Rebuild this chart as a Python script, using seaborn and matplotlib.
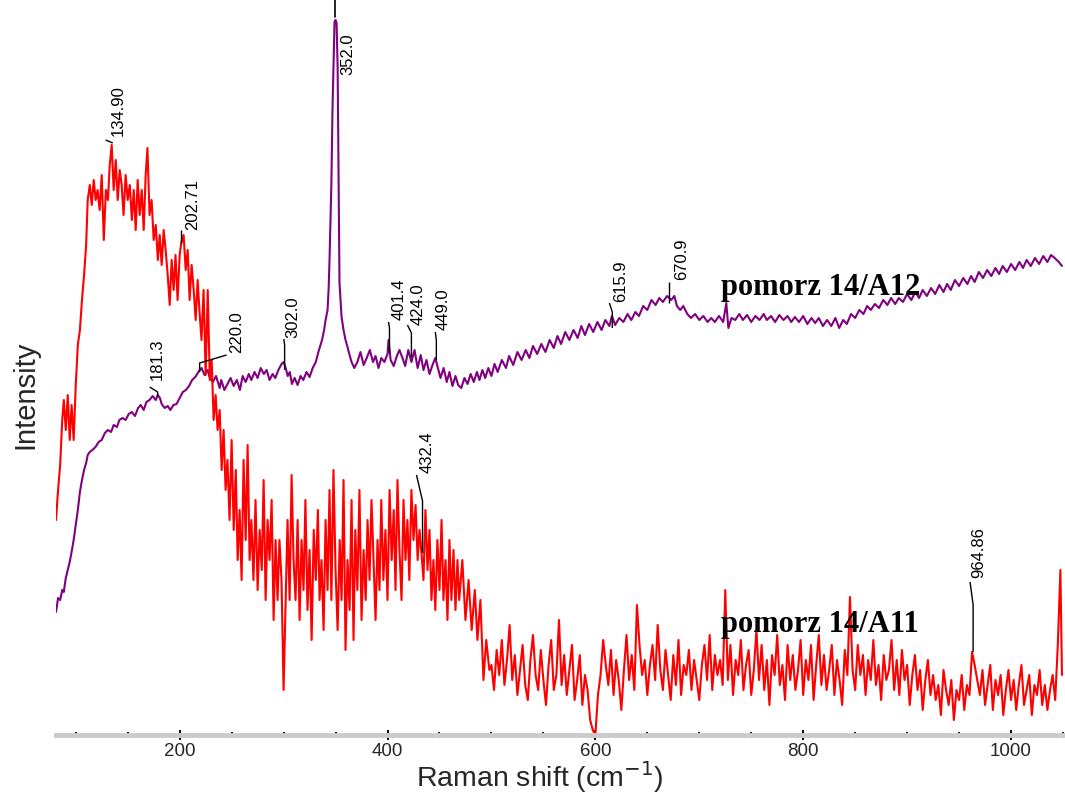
import matplotlib
matplotlib.use("Agg")
import matplotlib.pyplot as plt
import seaborn as sns
import pandas as pd

# ---------------- data (Raman shift in cm-1, intensity in arbitrary units) ----------------
# pomorz 14/A11, low-shift part
a11_shift = [81, 83, 85, 87, 88.5, 90.4, 92.3, 94.2, 96, 98, 100, 102, 104, 106, 108, 110, 111.5, 113.5, 115.4,
             117.3, 119.2, 121, 123, 125, 127, 129, 131, 132.7, 134.6, 136.5, 138.5, 140.4, 142.3, 144.2, 146, 148,
             150, 152, 154, 155.8, 157.7, 159.6, 161.5, 163.5, 165.4, 167.3, 169, 171, 173, 175, 177, 179, 180.8,
             182.7, 184.6, 186.5, 188.5, 190.4, 192.3, 194.2, 196, 198, 200, 201.5, 203.8, 205.8, 207.7, 209.6,
             211.5, 213.5, 215.4, 217.3, 219, 221, 223, 225, 227, 229, 230.8, 232.7, 234.6, 236.5, 238.5, 240.4,
             242.3, 244.2, 246, 248, 250, 252, 254, 255.8, 257.7, 259.6, 261.5, 263.5, 265.4, 267.3, 269, 271, 273,
             275, 277, 279, 280.8, 282.7, 284.6, 286.5, 288.5, 290.4, 292.3, 294.2, 296, 298, 300, 302, 303.8,
             305.8, 307.7, 309.6, 311.5, 313.5, 315.4, 317.3, 319.2, 321, 323, 325, 327, 329, 331, 333, 334.6,
             336.5, 338.5, 340.4, 342.3, 344.2, 346, 348, 350, 352, 354, 355.8, 357.7, 359.6, 361.5, 363.5, 365.4,
             367.3, 369, 371, 373, 375, 377, 379, 380.8, 382.7, 384.6, 386.5, 388.5, 390.4, 392.3, 394, 396, 398,
             400, 402, 404, 406, 407.7, 409.6, 411.5, 413.5, 415.4, 417.3, 419.2, 421, 423, 425, 427, 429, 430.8,
             432.7, 434.6, 436.5, 438.5, 440.4, 442.3, 444.2, 446, 448, 450, 452, 453.8, 455.8, 457.7, 459.6,
             461.5, 463.5, 465.4, 467.3, 469, 472, 475, 478, 481, 484, 486.5, 489.4, 492.3, 495, 498]
a11_intensity = [215, 245, 270, 315, 335, 305, 340, 295, 330, 295, 350, 390, 405, 435, 460, 490, 535, 550, 530,
                 555, 535, 545, 525, 560, 495, 545, 535, 570, 590, 545, 575, 535, 565, 550, 520, 560,
                 535, 550, 515, 545, 505, 555, 520, 545, 505, 560, 587, 520, 535, 495, 510, 475, 500,
                 470, 505, 485, 460, 430, 475, 445, 480, 435, 480, 492, 500, 465, 485, 435,
                 470, 445, 415, 455, 425, 395, 445, 360, 445, 355, 375, 315, 340, 305, 325, 265,
                 305, 245, 275, 215, 295, 205, 265, 175, 225, 155, 275, 195, 290, 175, 215, 155, 235,
                 145, 205, 165, 255, 135, 215, 175, 235, 115, 195, 135, 195, 155, 45, 135, 215,
                 135, 260, 175, 135, 215, 115, 195, 145, 235, 125, 185, 95, 205, 155, 225, 135,
                 175, 105, 215, 145, 245, 135, 265, 165, 105, 195, 135, 255, 85, 175, 125, 235,
                 95, 205, 145, 245, 115, 185, 135, 215, 155, 235, 175, 115, 195, 145, 235, 155, 205,
                 135, 245, 175, 225, 145, 255, 185, 135, 235, 175, 215, 155, 245, 195, 230, 175, 205,
                 182, 155, 225, 165, 205, 135, 175, 125, 195, 145, 215, 135, 175, 115, 195,
                 135, 185, 125, 175, 135, 175, 115, 155, 105, 145, 95, 135, 55, 95, 65]

# pomorz 14/A11, high-shift (baseline) part
a11_tail_shift = [500, 502.5, 505, 507.5, 510, 512.5, 515, 517.5, 520, 522.5,
                  525, 527.5, 530, 532.5, 535, 537.5, 540, 542.5, 545, 547.5,
                  550, 552.5, 555, 557.5, 560, 562.5, 565, 567.5, 570, 572.5,
                  575, 577.5, 580, 582.5, 585, 587.5, 590, 592.5, 595, 597.5,
                  600, 602.5, 605, 607.5, 610, 612.5, 615, 617.5, 620, 622.5,
                  625, 627.5, 630, 632.5, 635, 637.5, 640, 642.5, 645, 647.5,
                  650, 652.5, 655, 657.5, 660, 662.5, 665, 667.5, 670, 672.5,
                  675, 677.5, 680, 682.5, 685, 687.5, 690, 692.5, 695, 697.5,
                  700, 702.5, 705, 707.5, 710, 712.5, 715, 717.5, 720, 722.5,
                  725, 727.5, 730, 732.5, 735, 737.5, 740, 742.5, 745, 747.5,
                  750, 752.5, 755, 757.5, 760, 762.5, 765, 767.5, 770, 772.5,
                  775, 777.5, 780, 782.5, 785, 787.5, 790, 792.5, 795, 797.5,
                  800, 802.5, 805, 807.5, 810, 812.5, 815, 817.5, 820, 822.5,
                  825, 827.5, 830, 832.5, 835, 837.5, 840, 842.5, 845, 847.5,
                  850, 852.5, 855, 857.5, 860, 862.5, 865, 867.5, 870, 872.5,
                  875, 877.5, 880, 882.5, 885, 887.5, 890, 892.5, 895, 897.5,
                  900, 902.5, 905, 907.5, 910, 912.5, 915, 917.5, 920, 922.5,
                  925, 927.5, 930, 932.5, 935, 937.5, 940, 942.5, 945, 947.5,
                  950, 952.5, 955, 957.5, 960, 962.5, 965, 967.5, 970, 972.5,
                  975, 977.5, 980, 982.5, 985, 987.5, 990, 992.5, 995, 997.5,
                  1000, 1002.5, 1005, 1007.5, 1010, 1012.5, 1015, 1017.5, 1020, 1022.5,
                  1025, 1027.5, 1030, 1032.5, 1035, 1037.5, 1040, 1042.5, 1045, 1047.5,
                  1049]
a11_tail_intensity = [70, 45, 85, 60, 95, 50, 75, 110, 55, 80,
                      40, 65, 90, 50, 35, 75, 100, 60, 45, 85,
                      55, 30, 70, 95, 45, 60, 115, 50, 80, 40,
                      65, 90, 35, 55, 80, 30, 60, 45, 15, 5,
                      0, 40, 60, 95, 70, 50, 85, 40, 75, 55,
                      25, 65, 100, 55, 80, 45, 130, 90, 60, 75,
                      40, 70, 90, 55, 110, 65, 45, 85, 60, 35,
                      80, 50, 95, 40, 70, 60, 85, 45, 75, 55,
                      35, 70, 90, 55, 100, 45, 80, 60, 75, 50,
                      145, 55, 90, 40, 75, 60, 95, 45, 70, 85,
                      40, 65, 105, 55, 90, 45, 75, 30, 80, 60,
                      100, 50, 70, 35, 90, 55, 80, 45, 65, 95,
                      40, 75, 55, 90, 35, 70, 100, 50, 80, 45,
                      65, 90, 40, 75, 55, 30, 85, 60, 138, 65,
                      45, 90, 60, 80, 40, 75, 55, 95, 50, 70,
                      35, 80, 55, 65, 95, 45, 75, 40, 85, 55,
                      70, 30, 60, 80, 45, 65, 25, 55, 75, 40,
                      60, 35, 50, 20, 65, 45, 30, 55, 15, 45,
                      35, 60, 25, 50, 40, 83, 70, 55, 40, 65,
                      30, 50, 70, 25, 55, 40, 60, 20, 45, 65,
                      35, 55, 25, 50, 70, 30, 45, 60, 20, 50,
                      40, 65, 30, 50, 25, 45, 60, 35, 90, 165,
                      60]

a12_shift = [81, 83, 85, 87, 88.5, 90.4, 92.3, 94.2, 96, 98, 100, 102, 104, 106, 108, 110, 111.5, 113.5, 116,
             119, 122, 125, 128, 131, 134, 136.5, 139.6, 142, 145, 148, 151, 154, 157, 160, 162.5, 165.4, 168,
             171, 174, 177, 179, 181, 182.7, 185.6, 188.5, 191, 194, 197, 200, 203, 206, 209, 212, 215, 218, 221,
             224, 227, 229, 232, 235, 238.5, 240, 243, 246, 249, 252, 255, 258, 260.6, 263.5, 266.5, 269, 272,
             275, 278, 281, 283.7, 286.5, 289.4, 292, 295, 298, 300, 302, 304, 306, 308, 310.6, 313.5, 316.3,
             319, 322, 325, 328, 331, 333.5, 335, 337, 339, 340.4, 342.3, 343.3, 344.2, 345, 346, 347, 348, 349,
             350, 351, 352, 353, 353.8, 354.8, 355.8, 357.7, 359.6, 361.5, 363.5, 365.4, 368, 371, 374, 377, 380,
             383, 386, 388.5, 391.3, 394, 397, 400, 401, 403, 406, 409, 411.5, 414.4, 417, 420, 423, 426, 429,
             432, 434.6, 437.5, 440.4, 443.3, 446, 448, 451, 454, 457, 459.6, 462.5, 465.4, 468, 471, 474, 477,
             480, 483, 486, 488.5, 491.3, 494, 497, 500, 503, 506, 510, 514, 517, 521, 525, 529, 533, 536.5, 540,
             544, 548, 552, 556, 560, 563.5, 567, 571, 575, 579, 583, 586.5, 590, 594, 598, 602, 606, 609.6,
             613.5, 616, 619, 623, 627, 631, 634.6, 638.5, 642, 646, 650, 654, 658, 661.5, 665, 669, 673, 676,
             678.5, 681.7, 684.6, 688.5, 692, 696, 700, 704, 708, 711.5, 715, 719, 723, 726, 728, 731, 734.6,
             738.5, 742, 746, 750, 754, 758, 762, 765, 769, 773, 777, 781, 785, 788.5, 792, 796, 800, 804, 808,
             811.5, 815, 819, 823, 827, 831, 834.6, 838.5, 842, 846, 850, 854, 858, 861.5, 865, 869, 873, 877,
             881, 884.6, 888.5, 892, 896, 900, 904, 908, 911.5, 915, 919, 923, 927, 931, 935, 938.5, 942, 946,
             950, 954, 958, 961.5, 965, 969, 973, 977, 981, 985, 988.5, 992, 996, 1000, 1004, 1008, 1011.5, 1015,
             1019, 1023, 1027, 1031, 1035, 1038.5, 1042, 1046, 1049]
a12_intensity = [123, 137, 135, 145, 143, 157, 165, 173, 183, 195, 210, 225, 243, 255, 265, 272, 280, 283, 285,
                 288, 293, 295, 302, 305, 303, 310, 308, 315, 317, 315, 321, 323, 319, 327, 330, 325, 333,
                 335, 339, 335, 340, 337, 331, 327, 329, 325, 330, 331, 337, 343, 345, 349, 355, 358, 363, 367,
                 360, 365, 357, 353, 359, 347, 355, 345, 351, 357, 349, 355, 345, 359, 353, 361, 355, 363,
                 357, 367, 361, 365, 355, 361, 357, 365, 371, 373, 367, 359, 363, 351, 357, 350, 359,
                 355, 363, 358, 367, 373, 383, 388, 395, 405, 415, 425, 445, 475, 508, 552, 622, 668, 713,
                 715, 712, 668, 552, 452, 435, 418, 405, 395, 388, 380, 373, 367, 373, 383, 370, 377,
                 385, 373, 379, 367, 377, 373, 381, 395, 375, 369, 379, 385, 377, 369, 385, 373, 385, 367,
                 380, 365, 375, 361, 370, 377, 369, 357, 367, 353, 363, 349, 359, 350, 347, 357, 351,
                 361, 353, 363, 355, 365, 357, 367, 359, 371, 363, 375, 367, 379, 370, 383, 375, 385, 377, 389,
                 381, 391, 383, 395, 387, 399, 391, 403, 395, 405, 397, 409, 400, 411, 403, 413, 405, 415,
                 409, 419, 410, 417, 413, 421, 415, 423, 419, 429, 425, 435, 430, 437, 433, 439, 435, 439,
                 429, 425, 429, 421, 417, 421, 415, 419, 413, 417, 413, 419, 413, 432, 407, 417, 415,
                 421, 415, 420, 413, 419, 415, 421, 415, 419, 413, 420, 415, 419, 413, 418, 413, 419, 411, 417,
                 412, 417, 409, 415, 409, 417, 407, 415, 411, 421, 417, 425, 421, 429, 425, 431, 427, 435,
                 430, 437, 431, 437, 433, 441, 435, 443, 437, 445, 439, 447, 441, 450, 443, 451, 445, 455,
                 449, 457, 451, 459, 453, 463, 457, 465, 459, 467, 461, 469, 463, 471, 465, 473, 467, 475,
                 469, 477, 471, 479, 473, 480, 477, 473, 469]

# peak labels: text, foot of leader (x, y), knee height, top of leader (x, y), text anchor (x, y)
peak_text = ["134.90", "202.71", "181.3", "220.0", "302.0", "401.4", "424.0", "449.0", "615.9", "670.9",
             "432.4", "964.86"]
peak_x = [135.6, 201, 178.8, 219.2, 301, 401.9, 423, 447, 616.3, 671, 433.7, 963.5]
peak_y = [592, 492, 338, 363, 365, 382, 378, 375, 407, 432, 182, 83]
knee_y = [592, 492, 343, 372, 390, 407, 402, 395, 423, 445, 234, 130]
top_x = [128.8, 201, 171.2, 245.2, 300.2, 401, 419.2, 446, 613.5, 671, 427.9, 960.6]
top_y = [595, 505, 348, 380, 396, 413, 410, 403, 432, 453, 260, 153]
text_x = [141.3, 212.5, 178.8, 254.8, 308.7, 411.5, 429.8, 453.7, 624, 682.7, 438.5, 969.2]
text_y = [599, 505, 355, 382, 397, 415, 410, 405, 433, 455, 262, 157]

main_peak = ["352.0"]
main_peak_x = [349]
main_peak_y = [718]

series_names = ["pomorz 14/A12", "pomorz 14/A11"]
series_label_x = [721, 721]
series_label_y = [440, 103]

# ---------------- figure ----------------
sns.set_theme(style="white")
plt.rcParams["font.family"] = ["Liberation Sans", "DejaVu Sans"]

fig = plt.figure(figsize=(10.65, 7.94), dpi=100)
ax = fig.add_axes([56 / 1065, 59 / 794, 1007 / 1065, 735 / 794])

df12 = pd.DataFrame({"shift": a12_shift, "intensity": a12_intensity})
df11 = pd.DataFrame({"shift": a11_shift + a11_tail_shift, "intensity": a11_intensity + a11_tail_intensity})
sns.lineplot(data=df12, x="shift", y="intensity", ax=ax, color="#800080", linewidth=1.5,
             estimator=None, sort=False)
sns.lineplot(data=df11, x="shift", y="intensity", ax=ax, color="#ff0000", linewidth=1.5,
             estimator=None, sort=False)

ax.set_xlim(81, 1050)
ax.set_ylim(0, 735)

# leaders and peak labels
for t, px, py, ky, tx, ty, lx, ly in zip(peak_text, peak_x, peak_y, knee_y, top_x, top_y, text_x, text_y):
    ax.plot([px, px, tx], [py, ky, ty], color="black", linewidth=1.0, solid_capstyle="butt")
    ax.text(lx, ly, t, rotation=90, ha="center", va="bottom", fontsize=12, color="black")

for t, px, py in zip(main_peak, main_peak_x, main_peak_y):
    ax.plot([px, px], [py, 735], color="black", linewidth=1.2, clip_on=False)
    ax.text(px + 12.5, py - 16, t, rotation=90, ha="center", va="top", fontsize=12, color="black")

for name, lx, ly in zip(series_names, series_label_x, series_label_y):
    ax.text(lx, ly, name, ha="left", va="baseline", fontsize=22, fontweight="bold",
            family=["Liberation Serif", "DejaVu Serif"], color="black")

# axes styling
for s in ["top", "right", "left"]:
    ax.spines[s].set_visible(False)
ax.spines["bottom"].set_color("#cbcbcb")
ax.spines["bottom"].set_linewidth(3.5)

ax.set_xticks([200, 400, 600, 800, 1000])
ax.set_xticks([100, 150, 250, 300, 350, 450, 500, 550, 650, 700, 750, 850, 900, 950, 1050], minor=True)
ax.tick_params(axis="x", which="major", direction="inout", length=7, width=1.4, color="black",
               labelsize=13.5, pad=2, bottom=True)
ax.tick_params(axis="x", which="minor", direction="inout", length=4, width=1.4, color="black", bottom=True)
ax.set_yticks([])

ax.set_xlabel("Raman shift (cm$^{-1}$)", fontsize=20.5)
ax.set_ylabel("Intensity", fontsize=21)
ax.xaxis.set_label_coords(0.48, -0.033)
ax.yaxis.set_label_coords(-0.017, 0.463)

fig.savefig("out.png", dpi=100)
